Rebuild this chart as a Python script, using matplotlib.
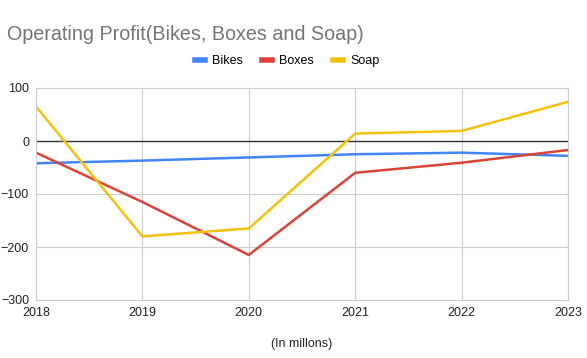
import matplotlib.pyplot as plt

years = [2018, 2019, 2020, 2021, 2022, 2023]
bikes = [-42, -37, -31, -25, -22, -28]
boxes = [-22, -115, -215, -60, -41, -17]
soap = [65, -180, -165, 14, 19, 74]

plt.rcParams['font.family'] = ['Liberation Sans', 'DejaVu Sans']

fig = plt.figure(figsize=(5.87, 3.58), dpi=100)
ax = fig.add_axes([36 / 587, 1 - 300 / 358, 532 / 587, 212 / 358])

ax.plot(years, bikes, color='#4285F4', lw=1.8, label='Bikes')
ax.plot(years, boxes, color='#DB4437', lw=1.8, label='Boxes')
ax.plot(years, soap, color='#F4C20D', lw=1.8, label='Soap')

ax.set_xlim(2018, 2023)
ax.set_ylim(-300, 100)
ax.set_xticks(years)
ax.set_yticks([-300, -200, -100, 0, 100])
ax.grid(color='#cccccc', lw=0.8)
ax.set_axisbelow(True)
ax.axhline(0, color='#333333', lw=1, zorder=1.5)
for s in ax.spines.values():
    s.set_color('#cccccc')
    s.set_linewidth(0.8)
ax.tick_params(length=0, labelsize=9, colors='#222222', pad=5)
ax.set_xlabel('(In millons)', fontsize=9, color='#222222', labelpad=14)

fig.text(7 / 587, 1 - 35 / 358, 'Operating Profit(Bikes, Boxes and Soap)',
         fontsize=14.2, color='#757575', va='center')
fig.legend(loc='center', bbox_to_anchor=(287 / 587, 1 - 61 / 358), ncol=3,
           frameon=False, fontsize=9, handlelength=0.8, handleheight=0.5,
           columnspacing=1.5, handletextpad=0.6)
leg = fig.legends[0]
for h in leg.get_lines():
    h.set_linewidth(4)

fig.savefig('out.png', dpi=100)
